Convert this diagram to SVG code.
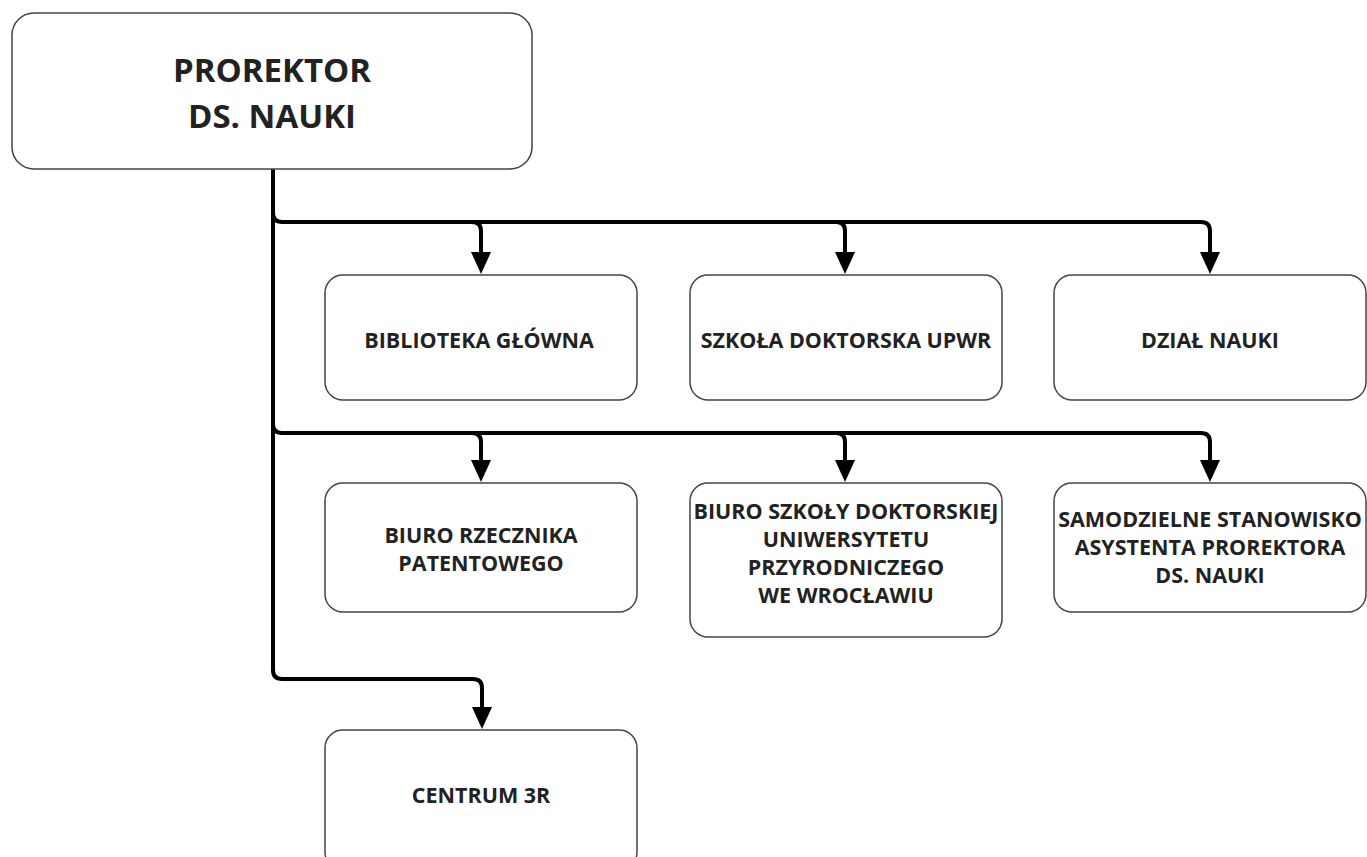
<svg xmlns="http://www.w3.org/2000/svg" width="1367" height="857" viewBox="0 0 1367 857">
<defs>
<path id="ah" d="M-10,-22 L10,-22 L0,0 z" fill="#000"/>
<style>
.box{fill:#fff;stroke:#444;stroke-width:1.5}
.t{font-family:"Open Sans","DejaVu Sans",sans-serif;font-weight:bold;fill:#222;text-anchor:middle}
.s{font-size:21.5px}
.big{font-size:33px}
.c{fill:none;stroke:#000;stroke-width:4;stroke-linejoin:round}
</style>
</defs>
<rect width="1367" height="857" fill="#fff"/>
<g id="connectors">
<path class="c" d="M273,169 V670 Q273,679 282,679 H473 Q482,679 482,688 V712"/>
<path class="c" d="M273,213 Q273,222 282,222 H1201 Q1210,222 1210,231 V256"/>
<path class="c" d="M472,222 Q481,222 481,231 V256"/>
<path class="c" d="M836,222 Q845,222 845,231 V256"/>
<path class="c" d="M273,424 Q273,433 282,433 H1201 Q1210,433 1210,442 V464"/>
<path class="c" d="M472,433 Q481,433 481,442 V464"/>
<path class="c" d="M836,433 Q845,433 845,442 V464"/>
<use href="#ah" x="481" y="274"/>
<use href="#ah" x="845" y="274"/>
<use href="#ah" x="1210" y="274"/>
<use href="#ah" x="481" y="482"/>
<use href="#ah" x="845" y="482"/>
<use href="#ah" x="1210" y="482"/>
<use href="#ah" x="482" y="729"/>
</g>
<g id="n-prorektor">
<rect class="box" x="12" y="13" width="520" height="156" rx="22"/>
<text class="t big" x="272" y="82">PROREKTOR</text>
<text class="t big" x="272" y="128">DS. NAUKI</text>
</g>
<g id="n-biblioteka">
<rect class="box" x="325" y="275" width="312" height="125" rx="18"/>
<text class="t s" x="479" y="348">BIBLIOTEKA GŁÓWNA</text>
</g>
<g id="n-szkola">
<rect class="box" x="690" y="275" width="312" height="125" rx="18"/>
<text class="t s" x="846" y="348">SZKOŁA DOKTORSKA UPWR</text>
</g>
<g id="n-dzial">
<rect class="box" x="1054" y="275" width="312" height="125" rx="18"/>
<text class="t s" x="1210" y="348">DZIAŁ NAUKI</text>
</g>
<g id="n-rzecznik">
<rect class="box" x="325" y="483" width="312" height="129" rx="18"/>
<text class="t s" x="481" y="543">BIURO RZECZNIKA</text>
<text class="t s" x="481" y="571">PATENTOWEGO</text>
</g>
<g id="n-biuro-szkoly">
<rect class="box" x="690" y="483" width="312" height="154" rx="18"/>
<text class="t s" x="846" y="519">BIURO SZKOŁY DOKTORSKIEJ</text>
<text class="t s" x="846" y="547">UNIWERSYTETU</text>
<text class="t s" x="846" y="575">PRZYRODNICZEGO</text>
<text class="t s" x="846" y="603">WE WROCŁAWIU</text>
</g>
<g id="n-samodzielne">
<rect class="box" x="1054" y="483" width="312" height="129" rx="18"/>
<text class="t s" x="1210" y="527">SAMODZIELNE STANOWISKO</text>
<text class="t s" x="1210" y="555">ASYSTENTA PROREKTORA</text>
<text class="t s" x="1210" y="583">DS. NAUKI</text>
</g>
<g id="n-centrum">
<rect class="box" x="325" y="730" width="312" height="140" rx="18"/>
<text class="t s" x="481" y="803">CENTRUM 3R</text>
</g>
</svg>
